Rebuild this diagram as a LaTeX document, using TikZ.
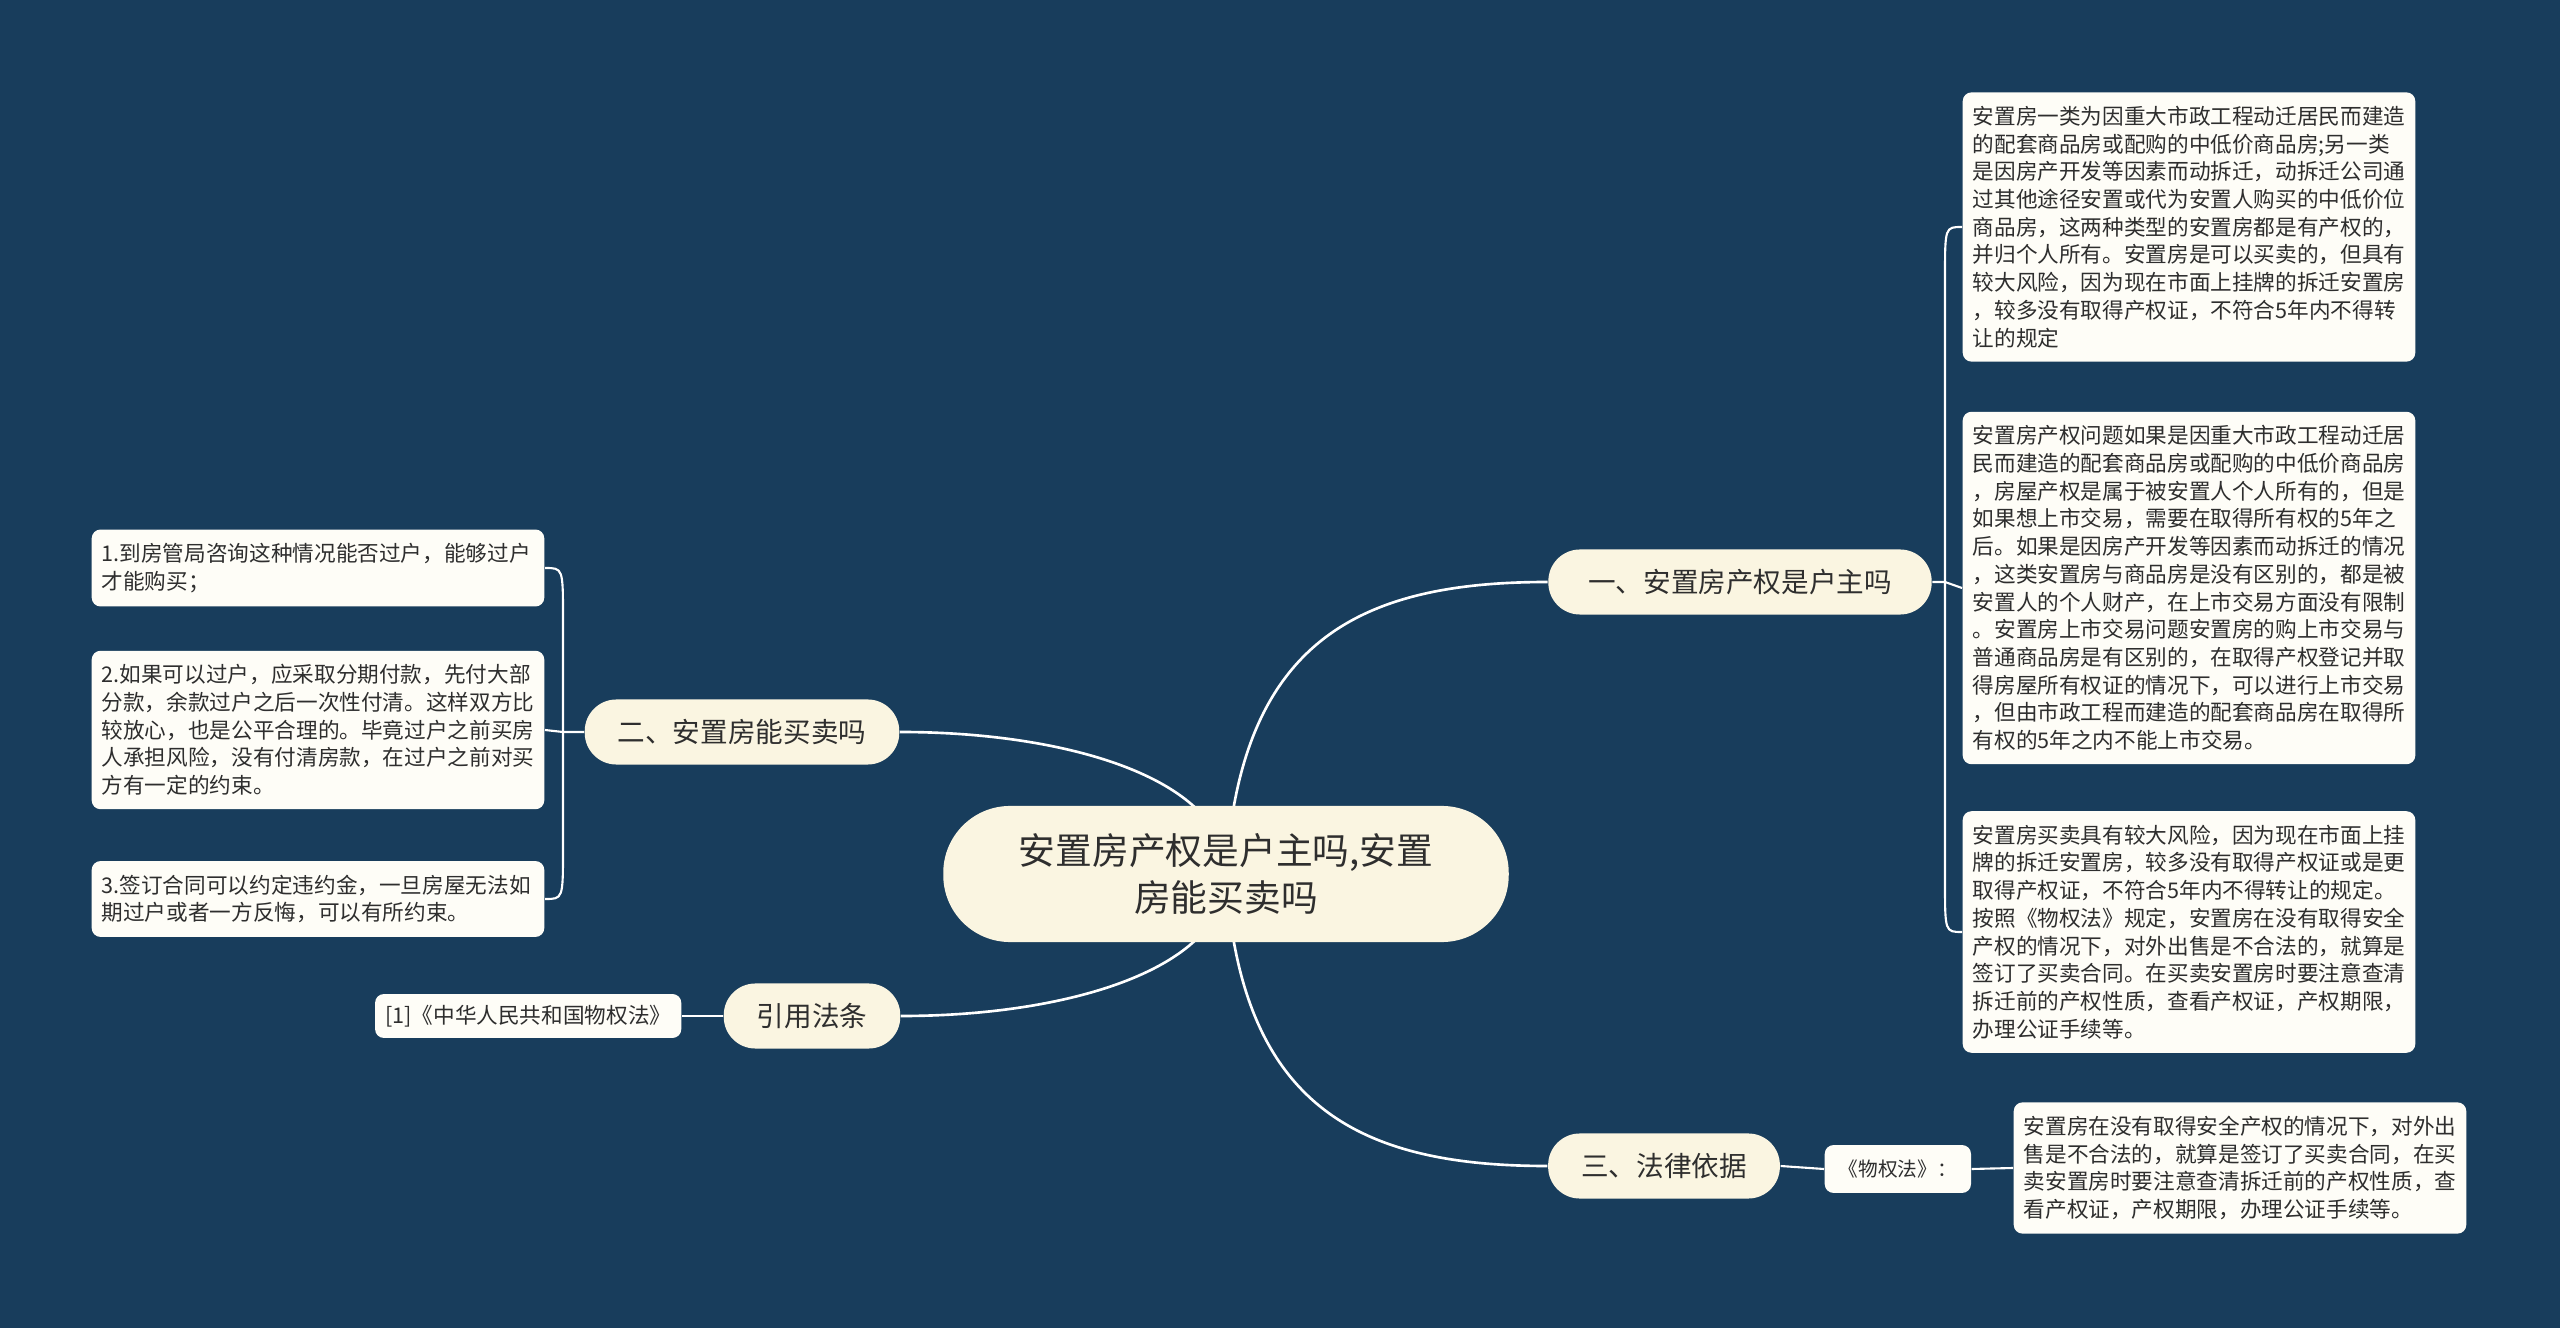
\documentclass[tikz,border=0pt]{standalone}
\usepackage{fontspec}
\setmainfont{Noto Sans CJK SC}
\usetikzlibrary{calc}
\usetikzlibrary{backgrounds}

\definecolor{bgblue}{HTML}{183D5C}
\definecolor{topiccream}{HTML}{FAF5E1}
\definecolor{leafwhite}{HTML}{FEFDF7}
\definecolor{inkgray}{HTML}{2E2E2E}

\begin{document}
\begin{tikzpicture}[
    x=0.01cm, y=-0.01cm,
    topic/.style={fill=topiccream, text=inkgray, rounded corners=19pt, minimum width=160.8pt, minimum height=38.7pt, align=center, font=\fontsize{10.45pt}{13.4pt}\selectfont}, % Style for the central topic
    branch/.style={fill=topiccream, text=inkgray, rounded corners=9pt, minimum height=18.5pt, inner xsep=9.4pt, inner ysep=1pt, font=\fontsize{7.85pt}{9pt}\selectfont}, % Style for the main branches
    leaf/.style={fill=leafwhite, text=inkgray, rounded corners=2.5pt, text width=123pt, align=left, inner xsep=2.85pt, inner ysep=3.9pt, font=\fontsize{6.15pt}{7.88pt}\selectfont}, % Style for the text boxes
    tag/.style={fill=leafwhite, text=inkgray, rounded corners=2.5pt, minimum height=12.5pt, inner xsep=2.85pt, inner ysep=1pt, font=\fontsize{6.15pt}{7.88pt}\selectfont}, % Style for the short labels
    trunk/.style={white, line width=0.75pt}, % Style for lines from the centre
    twig/.style={white, line width=0.6pt} % Style for lines to the boxes
]

% Canvas
\useasboundingbox (0,0) rectangle (2560,1328);

% Centre and branches
\coordinate (hub) at (1226, 874);
\node[topic] (main) at (hub) {安置房产权是户主吗,安置\\房能买卖吗};
\node[branch, minimum width=109pt] (q1) at (1740, 582) {一、安置房产权是户主吗};
\node[branch] (q2) at (742, 732) {二、安置房能买卖吗};
\node[branch] (cite) at (812, 1016) {引用法条};
\node[branch] (law) at (1664, 1166) {三、法律依据};

% --- Right boxes ---
\node[leaf, anchor=west] (q1a) at (1962, 227) {安置房一类为因重大市政工程动迁居民而建造\\的配套商品房或配购的中低价商品房;另一类\\是因房产开发等因素而动拆迁，动拆迁公司通\\过其他途径安置或代为安置人购买的中低价位\\商品房，这两种类型的安置房都是有产权的，\\并归个人所有。安置房是可以买卖的，但具有\\较大风险，因为现在市面上挂牌的拆迁安置房\\，较多没有取得产权证，不符合5年内不得转\\让的规定};
\node[leaf, anchor=west] (q1b) at (1962, 588) {安置房产权问题如果是因重大市政工程动迁居\\民而建造的配套商品房或配购的中低价商品房\\，房屋产权是属于被安置人个人所有的，但是\\如果想上市交易，需要在取得所有权的5年之\\后。如果是因房产开发等因素而动拆迁的情况\\，这类安置房与商品房是没有区别的，都是被\\安置人的个人财产，在上市交易方面没有限制\\。安置房上市交易问题安置房的购上市交易与\\普通商品房是有区别的，在取得产权登记并取\\得房屋所有权证的情况下，可以进行上市交易\\，但由市政工程而建造的配套商品房在取得所\\有权的5年之内不能上市交易。};
\node[leaf, anchor=west] (q1c) at (1962, 932) {安置房买卖具有较大风险，因为现在市面上挂\\牌的拆迁安置房，较多没有取得产权证或是更\\取得产权证，不符合5年内不得转让的规定。\\按照《物权法》规定，安置房在没有取得安全\\产权的情况下，对外出售是不合法的，就算是\\签订了买卖合同。在买卖安置房时要注意查清\\拆迁前的产权性质，查看产权证，产权期限，\\办理公证手续等。};

% --- Left boxes ---
\node[leaf, anchor=east] (q2a) at (545, 568) {1.到房管局咨询这种情况能否过户，能够过户\\才能购买；};
\node[leaf, anchor=east] (q2b) at (545, 730) {2.如果可以过户，应采取分期付款，先付大部\\分款，余款过户之后一次性付清。这样双方比\\较放心，也是公平合理的。毕竟过户之前买房\\人承担风险，没有付清房款，在过户之前对买\\方有一定的约束。};
\node[leaf, anchor=east] (q2c) at (545, 899) {3.签订合同可以约定违约金，一旦房屋无法如\\期过户或者一方反悔，可以有所约束。};

% --- Bottom labels ---
\node[tag, anchor=east] (citeref) at (682, 1016) {[1]《中华人民共和国物权法》};
\node[tag, anchor=west, inner xsep=4pt, minimum height=13.6pt, font=\fontsize{5.6pt}{7pt}\selectfont] (lawname) at (1824, 1169) {《物权法》：};
\node[leaf, anchor=west] (lawtext) at (2013, 1168) {安置房在没有取得安全产权的情况下，对外出\\售是不合法的，就算是签订了买卖合同，在买\\卖安置房时要注意查清拆迁前的产权性质，查\\看产权证，产权期限，办理公证手续等。};

% Bracket points
\coordinate (r1) at (1945, 582);
\coordinate (r2) at (563, 732);

\begin{pgfonlayer}{background}
% Background
\fill[bgblue] (0,0) rectangle (2560,1328);

% Lines from the centre
\draw[trunk] (hub) .. controls (1240, 640) and (1360, 582) .. (q1.west);
\draw[trunk] (hub) .. controls (1228, 780) and (1070, 732) .. (q2.east);
\draw[trunk] (hub) .. controls (1228, 968) and (1070, 1016) .. (cite.east);
\draw[trunk] (hub) .. controls (1240, 1108) and (1360, 1166) .. (law.west);

% Right bracket
\draw[twig] (q1.east) -- (r1) -- (q1b.west);
\draw[twig] (r1) -- ($(r1 |- q1a.west)+(0,50)$) .. controls (r1 |- q1a.west) .. (q1a.west);
\draw[twig] (r1) -- ($(r1 |- q1c.west)+(0,-50)$) .. controls (r1 |- q1c.west) .. (q1c.west);

% Left bracket
\draw[twig] (q2.west) -- (r2) -- (q2b.east);
\draw[twig] (r2) -- ($(r2 |- q2a.east)+(0,50)$) .. controls (r2 |- q2a.east) .. (q2a.east);
\draw[twig] (r2) -- ($(r2 |- q2c.east)+(0,-50)$) .. controls (r2 |- q2c.east) .. (q2c.east);

% Bottom links
\draw[twig] (cite.west) -- (citeref.east);
\draw[twig] (law.east) -- (lawname.west);
\draw[twig] (lawname.east) -- (lawtext.west);
\end{pgfonlayer}

\end{tikzpicture}
\end{document}
